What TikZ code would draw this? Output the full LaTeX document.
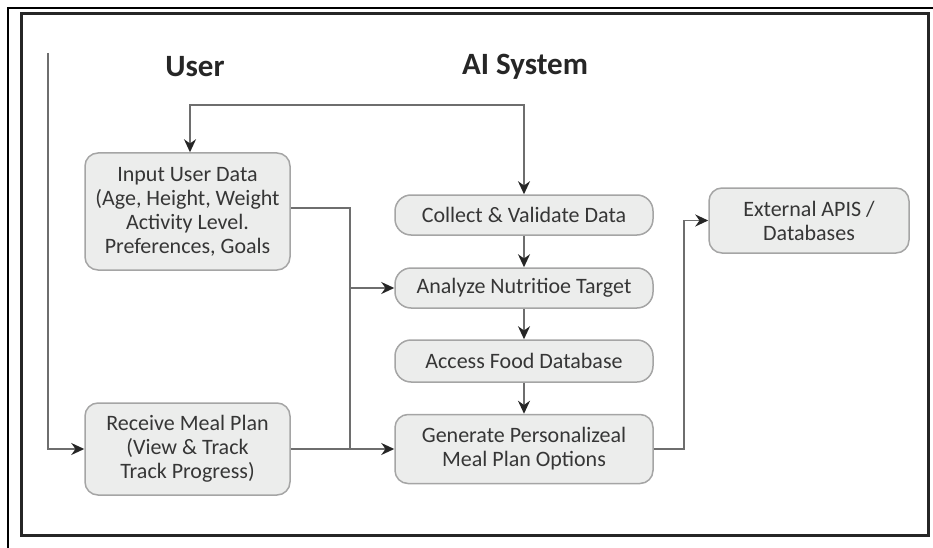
\documentclass[tikz,border=0pt]{standalone}
\usepackage{fontspec}
\setmainfont{Carlito}
\usetikzlibrary{arrows.meta}

\definecolor{boxfill}{HTML}{ECEDEC}
\definecolor{boxline}{HTML}{A5A5A5}
\definecolor{txtgray}{HTML}{363636}
\definecolor{linegray}{HTML}{6E6E6E}

\tikzset{
  tip/.tip={Stealth[length=13pt,width=12pt,color=black!85]},
  stepbox/.style={draw=boxline, line width=1.5pt, fill=boxfill, rounded corners=13pt,
    text=txtgray, align=center, font=\fontsize{22}{24}\selectfont, inner sep=0pt},
  flow/.style={draw=linegray, line width=1.8pt, -tip},
  wire/.style={draw=linegray, line width=1.8pt},
  lanehead/.style={font=\fontsize{31}{34}\selectfont\bfseries, text=black!85},
}

\begin{document}
\begin{tikzpicture}[x=1pt, y=-1pt]
\useasboundingbox (0,0) rectangle (933,548);

% frame
\draw[line width=1.4pt] (8,548) -- (8,8) -- (933,8);
\draw[line width=3pt, draw=black!85] (21,14) rectangle (928,535);

% lanes
\node[lanehead] (userhead) at (195,67) {User};
\node[lanehead] (aihead) at (525,67) {AI System};

% user side
\node[stepbox, minimum width=205pt, minimum height=117pt] (inp) at (187.5,211.5)
  {Input User Data\\(Age, Height, Weight\\Activity Level.\\Preferences, Goals};
\node[stepbox, minimum width=205pt, minimum height=92pt] (rec) at (187.5,449)
  {Receive Meal Plan\\(View \& Track\\Track Progress)};

% system side
\node[stepbox, minimum width=258pt, minimum height=40pt, rounded corners=16pt] (col) at (524,215) {Collect \& Validate Data};
\node[stepbox, minimum width=258pt, minimum height=40pt, rounded corners=16pt] (ana) at (524,288) {Analyze Nutritioe Target};
\node[stepbox, minimum width=258pt, minimum height=42pt, rounded corners=16pt] (acc) at (524,361) {Access Food Database};
\node[stepbox, minimum width=258pt, minimum height=69pt] (gen) at (524,449)
  {Generate Personalizeal\\Meal Plan Options};
\node[stepbox, minimum width=200pt, minimum height=65pt] (ext) at (809,220.5)
  {External APIS /\\Databases};

\coordinate (start) at (48,53);
\coordinate (loop) at (190,105);
\coordinate (split) at (350,208);

% connectors
\draw[flow] (start) |- (rec.west);
\draw[flow, tip-tip] (inp.north -| loop) -- (loop) -| (col.north);
\draw[wire] (inp.east |- split) -- (split) -- (split |- gen.west);
\draw[flow] (split |- ana.west) -- (ana.west);
\draw[flow] (rec.east) -- (gen.west);
\draw[flow] (col) -- (ana);
\draw[flow] (ana) -- (acc);
\draw[flow] (acc) -- (gen);
\draw[flow] (gen.east) -- ++(30,0) |- (ext.west);

\end{tikzpicture}
\end{document}
